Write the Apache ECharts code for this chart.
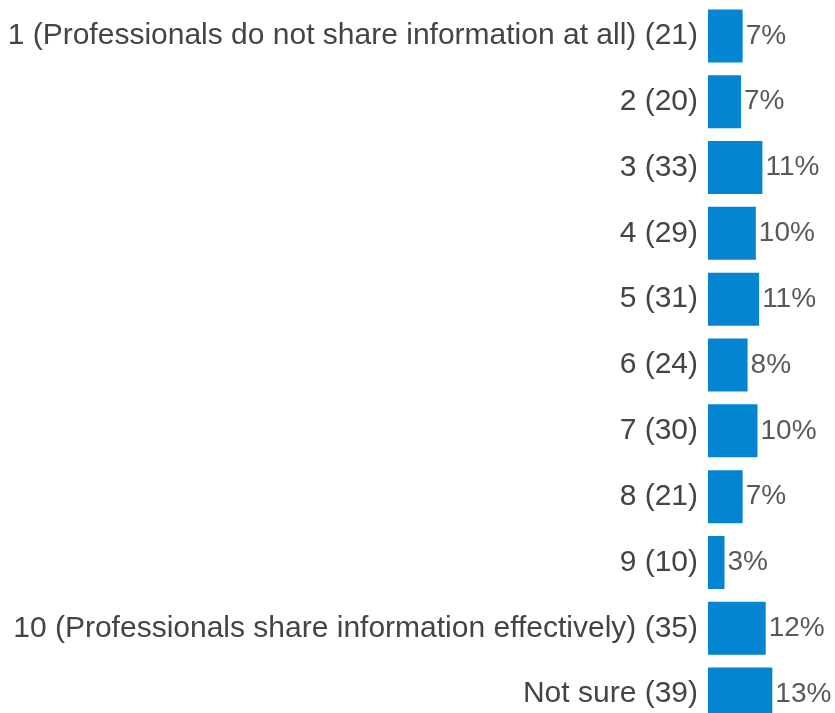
<!DOCTYPE html>
<html>
<head>
<meta charset="utf-8">
<script src="https://cdn.jsdelivr.net/npm/echarts@6/dist/echarts.min.js"></script>
<style>
  html, body { margin: 0; padding: 0; background: #fff; overflow: hidden; }
  #chart { width: 835px; height: 730px; }
</style>
</head>
<body>
<div id="chart"></div>
<script>
// categories as shown on the axis, counts drive bar length, pct is the printed label
const categories = [
  '1 (Professionals do not share information at all) (21)',
  '2 (20)',
  '3 (33)',
  '4 (29)',
  '5 (31)',
  '6 (24)',
  '7 (30)',
  '8 (21)',
  '9 (10)',
  '10 (Professionals share information effectively) (35)',
  'Not sure (39)'
]
const counts = [21, 20, 33, 29, 31, 24, 30, 21, 10, 35, 39]
const pctLabels = ['7%', '7%', '11%', '10%', '11%', '8%', '10%', '7%', '3%', '12%', '13%']

// the last row runs a little past the bottom edge in the original, so the
// chart box is taller than the window and gets cropped
const chart = echarts.init(document.getElementById('chart'))
chart.setOption({
  animation: false,
  grid: {
    left: 708,
    right: 0,
    top: 3,
    height: 724
  },
  xAxis: {
    type: 'value',
    min: 0,
    max: 77,
    show: false
  },
  yAxis: {
    type: 'category',
    inverse: true,
    data: categories,
    axisLine: { show: false },
    axisTick: { show: false },
    axisLabel: {
      margin: 10,
      fontSize: 30,
      fontFamily: 'Liberation Sans, Arial, sans-serif',
      color: '#444444'
    }
  },
  series: [{
    type: 'bar',
    data: counts,
    barWidth: 53,
    itemStyle: { color: '#0385D1' },
    label: {
      show: true,
      position: 'right',
      distance: 3,
      fontSize: 28,
      fontFamily: 'Liberation Sans, Arial, sans-serif',
      color: '#595959',
      formatter: p => pctLabels[p.dataIndex]
    }
  }]
})
</script>
</body>
</html>
